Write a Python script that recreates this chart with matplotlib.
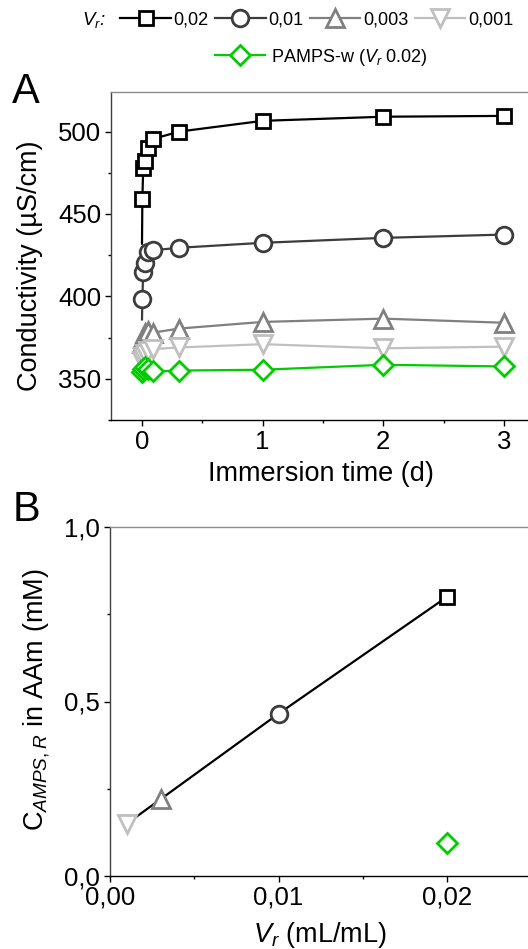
import matplotlib.pyplot as plt
from matplotlib.ticker import MultipleLocator, FuncFormatter
from matplotlib.lines import Line2D

# fonts: Arial-like, italic mathtext for V_r etc.
plt.rcParams['font.family'] = ['Liberation Sans', 'DejaVu Sans']
plt.rcParams['mathtext.fontset'] = 'custom'
plt.rcParams['mathtext.rm'] = 'Liberation Sans'
plt.rcParams['mathtext.it'] = 'Liberation Sans:italic'

# ---- data, panel A (conductivity vs immersion time) ----
# first point (t=0) is only where the line starts, no marker drawn there
time_d = [0, 0.003, 0.010, 0.025, 0.05, 0.09, 0.31, 1, 2, 3]
cond_002 = [432, 459, 478, 482, 490, 495.5, 500, 506.5, 509, 509.5]
cond_001 = [386, 398.5, 415, 420.5, 427, 428, 429.5, 432.5, 435.5, 437.5]
cond_0003 = [368, 372, 375, 378, 379, 378, 380.5, 384.5, 386.5, 384]
cond_0001 = [358, 361, 363, 365, 367, 368, 369, 371, 368.5, 369.5]
cond_pamps = [352, 354, 356, 357, 356, 354.5, 355, 355.5, 358.5, 357.5]

# ---- data, panel B (C_AMPS,R vs V_r) ----
vr = [0.001, 0.003, 0.01, 0.02]
c_ampsr = [0.15, 0.22, 0.465, 0.80]
pamps_vr = [0.02]
pamps_c = [0.095]

legend_labels = ['0,02', '0,01', '0,003', '0,001']

# styles
c_sq = '#000000'
c_ci = '#3c3c3c'
c_tu = '#808080'
c_td = '#c0c0c0'
c_gr = '#00cc00'
styles = [
    (c_sq, 's', 10),
    (c_ci, 'o', 12),
    (c_tu, '^', 13),
    (c_td, 'v', 13),
]
mew = 2.0
tick_fs = 18.5
label_fs = 19.5

fig = plt.figure(figsize=(5.28, 9.49), dpi=100)
W, H = 528, 949

def frame(ax):
    ax.spines['right'].set_visible(False)
    ax.spines['top'].set_color('#8c8c8c')
    ax.spines['top'].set_linewidth(1.0)
    ax.spines['left'].set_color('#404040')
    ax.spines['left'].set_linewidth(1.0)
    ax.spines['bottom'].set_color('#000000')
    ax.spines['bottom'].set_linewidth(1.0)
    ax.tick_params(which='major', direction='out', length=4, width=1, labelsize=tick_fs, pad=3)
    ax.tick_params(which='minor', direction='out', length=2, width=1)
    ax.tick_params(top=False, right=False, which='both')

# ================= panel A =================
axA = fig.add_axes([111 / W, 1 - 420 / H, (W - 111) / W, (420 - 92) / H])
series = [cond_002, cond_001, cond_0003, cond_0001]
marks = list(range(1, len(time_d)))
for vals, (col, mk, ms) in zip(series, styles):
    axA.plot(time_d, vals, color=col, lw=1.6, marker=mk, ms=ms, mfc='white',
             mec=col, mew=mew, markevery=marks, clip_on=False)
axA.plot(time_d, cond_pamps, color=c_gr, lw=1.6, marker='D', ms=10, mfc='white',
         mec=c_gr, mew=mew, markevery=marks, clip_on=False)

axA.set_xlim(-0.257, 3.2)
axA.set_ylim(325, 524)
axA.xaxis.set_major_locator(MultipleLocator(1))
axA.xaxis.set_minor_locator(MultipleLocator(0.5))
axA.yaxis.set_major_locator(MultipleLocator(50))
axA.yaxis.set_minor_locator(MultipleLocator(25))
frame(axA)
axA.set_xlabel('Immersion time (d)', fontsize=label_fs)
axA.set_ylabel('Conductivity (\u00b5S/cm)', fontsize=label_fs)
axA.xaxis.set_label_coords(0.504, -0.125)
axA.yaxis.set_label_coords(-0.163, 0.47)

# ================= panel B =================
axB = fig.add_axes([110 / W, 1 - 876 / H, (W - 110) / W, (876 - 527) / H])
axB.plot(vr, c_ampsr, color='black', lw=1.6, zorder=2)
for x, y, (col, mk, ms) in zip(vr[::-1], c_ampsr[::-1], styles):
    axB.plot([x], [y], ls='none', marker=mk, ms=ms, mfc='white', mec=col, mew=mew,
             zorder=3, clip_on=False)
axB.plot(pamps_vr, pamps_c, ls='none', marker='D', ms=10, mfc='white', mec=c_gr,
         mew=mew, zorder=3)

axB.set_xlim(0, 0.0248)
axB.set_ylim(0, 1.0)
axB.xaxis.set_major_locator(MultipleLocator(0.01))
axB.xaxis.set_minor_locator(MultipleLocator(0.005))
axB.yaxis.set_major_locator(MultipleLocator(0.5))
axB.yaxis.set_minor_locator(MultipleLocator(0.25))
axB.xaxis.set_major_formatter(FuncFormatter(lambda v, p: f'{v:.2f}'.replace('.', ',')))
axB.yaxis.set_major_formatter(FuncFormatter(lambda v, p: f'{v:.1f}'.replace('.', ',')))
frame(axB)
axB.set_xlabel(r'$V_r$ (mL/mL)', fontsize=label_fs)
axB.set_ylabel(r'$\mathrm{C}_{\mathit{AMPS,R}}$ in AAm (mM)', fontsize=label_fs)
axB.xaxis.set_label_coords(0.502, -0.125)
axB.yaxis.set_label_coords(-0.139, 0.504)

# ================= legend =================
handles = [Line2D([], [], color=col, lw=1.6, marker=mk, ms=ms, mfc='white', mec=col, mew=mew)
           for (col, mk, ms) in styles]
fig.legend(handles, legend_labels, loc='center', bbox_to_anchor=(0.6, 1 - 20 / H),
           ncol=4, frameon=False, fontsize=13, handlelength=2.8, handletextpad=0.15,
           columnspacing=0.35, borderpad=0, borderaxespad=0, numpoints=1)
fig.text(106 / W, 1 - 20 / H, r'$V_r$:', fontsize=13.5, ha='right', va='center', style='italic')

h_pamps = Line2D([], [], color=c_gr, lw=1.6, marker='D', ms=10, mfc='white', mec=c_gr, mew=mew)
fig.legend([h_pamps], [r'PAMPS-w ($V_r$ 0.02)'], loc='center',
           bbox_to_anchor=(0.608, 1 - 57 / H), frameon=False, fontsize=13,
           handlelength=2.8, handletextpad=0.3, borderpad=0, borderaxespad=0, numpoints=1)

# panel letters
fig.text(12 / W, 1 - 103 / H, 'A', fontsize=30, va='baseline', ha='left')
fig.text(13 / W, 1 - 521 / H, 'B', fontsize=30, va='baseline', ha='left')

fig.savefig('out.png', dpi=100)
